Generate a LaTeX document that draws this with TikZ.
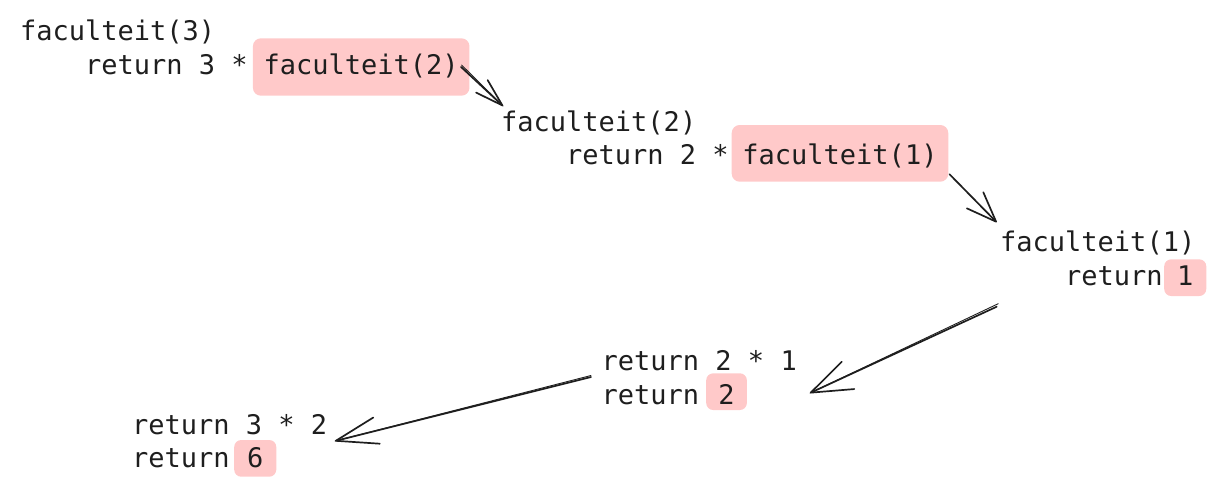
\documentclass[tikz,border=0pt]{standalone}
\usepackage{fontspec}
\newfontfamily\codefont{DejaVu Sans Mono}
\usetikzlibrary{arrows.meta,calc}
\definecolor{ink}{HTML}{1E1E1E}
\definecolor{hlred}{HTML}{FFC9C9}
\tikzset{
  codeline/.style={font=\codefont\fontsize{27}{34}\selectfont, text=ink, inner sep=0pt, anchor=base west},
  hlbox/.style={codeline, fill=hlred, rounded corners=8pt, inner ysep=0pt},
  callarrow/.style={draw=ink, line width=1.7pt, line cap=round},
  sketchstroke/.style={draw=ink, line width=0.9pt, line cap=round},
}
\begin{document}
\begin{tikzpicture}[x=1pt,y=-1pt]
\useasboundingbox (0,0) rectangle (1220,482);
% block 1
\node[codeline] (f3) at (20,40) {faculteit(3)};
\node[codeline] (r3) at (85,74) {return 3 *};
\node[hlbox, inner xsep=10.75pt, text height=35.7pt, text depth=21.7pt] (h1) at (252.7,74) {faculteit(2)};
% block 2
\node[codeline] (f2) at (501,131.5) {faculteit(2)};
\node[codeline] (r2) at (566,164.5) {return 2 *};
\node[hlbox, inner xsep=10.75pt, text height=39.5pt, text depth=17.2pt] (h2) at (731.5,164.5) {faculteit(1)};
% block 3
\node[codeline] (f1) at (1000,251.7) {faculteit(1)};
\node[codeline] (r1) at (1065,285) {return};
\node[hlbox, inner xsep=12.9pt, text height=25.7pt, text depth=11pt, rounded corners=7pt] (h3) at (1164,285) {1};
% block 4
\node[codeline] (m21) at (601.5,370.7) {return 2 * 1};
\node[codeline] (rr2) at (601.5,404) {return};
\node[hlbox, inner xsep=12.2pt, text height=30.7pt, text depth=6pt, rounded corners=7pt] (h4) at (706,404) {2};
% block 5
\node[codeline] (m32) at (132,434.3) {return 3 * 2};
\node[codeline] (rr6) at (132,467.7) {return};
\node[hlbox, inner xsep=12.9pt, text height=27.7pt, text depth=9pt, rounded corners=7pt] (h5) at (234,467.7) {6};
% connector end points
\coordinate (a1s) at ($(h1.east)+(-8.6,0)$);
\coordinate (a1e) at ($(f2.base west)+(2,-25.5)$);
\coordinate (a2s) at ($(h2.south east)+(1,-7.7)$);
\coordinate (a2e) at ($(f1.base west)+(-3.3,-29.4)$);
\coordinate (a3s) at ($(f1.base west)+(-3.3,55)$);
\coordinate (a3e) at ($(m21.base west)+(208.5,22.3)$);
\coordinate (a4s) at ($(m21.base west)+(-10.5,6.3)$);
\coordinate (a4e) at ($(m32.base west)+(203,6.7)$);
% connectors
\draw[callarrow, -{Straight Barb[length=28pt,width=17pt,round]}] (a1s) -- (a1e);
\draw[sketchstroke] ($(a1s)+(0.5,-2)$) -- (a1e);
\draw[callarrow, -{Straight Barb[length=30pt,width=23pt,round]}] (a2s) -- (a2e);
\draw[callarrow, -{Straight Barb[length=41pt,width=30pt,round]}] (a3s) -- (a3e);
\draw[sketchstroke] ($(a3s)+(1.5,-3)$) -- (a3e);
\draw[callarrow, -{Straight Barb[length=42pt,width=27pt,round]}] (a4s) -- (a4e);
\draw[sketchstroke] ($(a4s)+(0,-1.5)$) -- (a4e);
\end{tikzpicture}
\end{document}
